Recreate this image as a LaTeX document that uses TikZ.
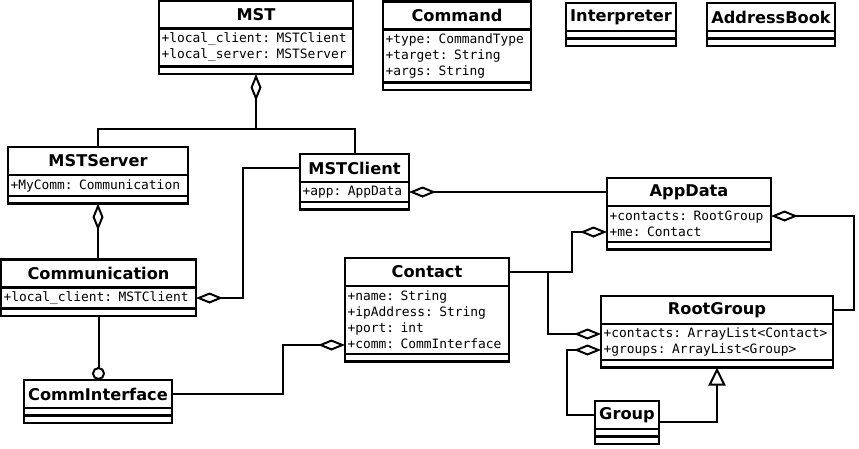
\documentclass[tikz,border=0pt]{standalone}
\usepackage{fontspec}
\setsansfont{DejaVu Sans}
\setmonofont{DejaVu Sans Mono}
\usetikzlibrary{positioning,arrows.meta}
\begin{document}
\begin{tikzpicture}[
    x=1pt, y=-1pt, line width=2pt,
    ctitle/.style={draw, line width=2.6pt, outer sep=0pt, inner sep=0pt, minimum height=28pt,
      font=\sffamily\bfseries\fontsize{16.2}{19}\selectfont},
    cattr/.style={draw, line width=2.6pt, outer sep=0pt, inner xsep=2.5pt, inner ysep=0pt, align=left,
      font=\ttfamily\fontsize{12.9}{16}\selectfont},
    cempty/.style={draw, line width=2.6pt, outer sep=0pt, inner sep=0pt, minimum height=7.5pt},
    agg/.style={{Diamond[open, length=27pt, width=11pt]}-},
    ball/.style={-{Circle[open, length=13pt]}},
    gen/.style={{Triangle[open, length=18pt, width=17pt]}-},
  ]
  \useasboundingbox (0,0) rectangle (859,448);

  % MST
  \node[ctitle, minimum width=194pt] (mst-t) at (256,14.5) {MST};
  \node[cattr, text width=189pt, minimum height=38pt, below=0pt of mst-t] (mst-a)
    {+local\_client: MSTClient\\+local\_server: MSTServer};
  \node[cempty, minimum width=194pt, below=0pt of mst-a] (mst-b) {};

  % Command, Interpreter, AddressBook
  \node[ctitle, minimum width=148pt] (cmd-t) at (457,15.5) {Command};
  \node[cattr, text width=143pt, minimum height=53pt, below=0pt of cmd-t] (cmd-a)
    {+type: CommandType\\+target: String\\+args: String};
  \node[cempty, minimum width=148pt, below=0pt of cmd-a] (cmd-b) {};
  \node[ctitle, minimum width=110pt] (interp-t) at (621,17) {Interpreter};
  \node[cempty, minimum width=110pt, below=0pt of interp-t] (interp-a) {};
  \node[cempty, minimum width=110pt, below=0pt of interp-a] (interp-b) {};
  \node[ctitle, minimum width=128pt] (abook-t) at (771,17) {AddressBook};
  \node[cempty, minimum width=128pt, below=0pt of abook-t] (abook-a) {};
  \node[cempty, minimum width=128pt, below=0pt of abook-a] (abook-b) {};

  % server side
  \node[ctitle, minimum width=180pt] (mstserver-t) at (98,161) {MSTServer};
  \node[cattr, text width=175pt, minimum height=21pt, below=0pt of mstserver-t] (mstserver-a)
    {+MyComm: Communication};
  \node[cempty, minimum width=180pt, below=0pt of mstserver-a] (mstserver-b) {};
  \node[ctitle, minimum width=195pt] (comm-t) at (98.5,273.5) {Communication};
  \node[cattr, text width=190pt, minimum height=21pt, below=0pt of comm-t] (comm-a)
    {+local\_client: MSTClient};
  \node[cempty, minimum width=195pt, below=0pt of comm-a] (comm-b) {};
  \node[ctitle, minimum width=148pt] (ci-t) at (98,394) {CommInterface};
  \node[cempty, minimum width=148pt, below=0pt of ci-t] (ci-a) {};
  \node[cempty, minimum width=148pt, below=0pt of ci-a] (ci-b) {};

  % client side
  \node[ctitle, minimum width=109pt] (mstclient-t) at (354.5,168) {MSTClient};
  \node[cattr, text width=104pt, minimum height=20pt, below=0pt of mstclient-t] (mstclient-a)
    {+app: AppData};
  \node[cempty, minimum width=109pt, below=0pt of mstclient-a] (mstclient-b) {};
  \node[ctitle, minimum width=164pt] (contact-t) at (427,272) {Contact};
  \node[cattr, text width=159pt, minimum height=68pt, below=0pt of contact-t] (contact-a)
    {+name: String\\+ipAddress: String\\+port: int\\+comm: CommInterface};
  \node[cempty, minimum width=164pt, below=0pt of contact-a] (contact-b) {};
  \node[ctitle, minimum width=164pt] (appdata-t) at (689,192) {AppData};
  \node[cattr, text width=159pt, minimum height=36pt, below=0pt of appdata-t] (appdata-a)
    {+contacts: RootGroup\\+me: Contact};
  \node[cempty, minimum width=164pt, below=0pt of appdata-a] (appdata-b) {};
  \node[ctitle, minimum width=232pt] (rootgroup-t) at (717,310) {RootGroup};
  \node[cattr, text width=227pt, minimum height=36pt, below=0pt of rootgroup-t] (rootgroup-a)
    {+contacts: ArrayList<Contact>\\+groups: ArrayList<Group>};
  \node[cempty, minimum width=232pt, below=0pt of rootgroup-a] (rootgroup-b) {};
  \node[ctitle, minimum width=64pt] (group-t) at (627,415) {Group};
  \node[cempty, minimum width=64pt, below=0pt of group-t] (group-a) {};
  \node[cempty, minimum width=64pt, below=0pt of group-a] (group-b) {};

  % Connectors
  \draw[agg] (mst-b.south) -- ++(0,55) -| (mstserver-t.north);
  \draw (mst-b.south) ++(0,55) -| (mstclient-t.north);
  \draw[agg] (mstserver-b.south) -- (mstserver-b.south |- comm-t.north);
  \draw[agg] (comm-a.east) -- ++(47,0) |- (mstclient-t.west);
  \draw[ball] (comm-b.south) -- (comm-b.south |- ci-t.north);
  \draw[agg] ([yshift=9pt]contact-a.south west) -- ++(-62,0) |- (ci-t.east);
  \draw[agg] (mstclient-a.east) -- (appdata-t.west);
  \draw[agg] ([yshift=-10pt]appdata-a.north east) -- ++(83,0) |- (rootgroup-t.east);
  \draw[agg] ([yshift=10pt]appdata-a.south west) -- ++(-35,0) |- (contact-t.east);
  \draw[agg] ([yshift=-10pt]rootgroup-a.north west) -- ++(-53,0) |- (contact-t.east);
  \draw[agg] ([yshift=10pt]rootgroup-a.south west) -- ++(-34,0) |- (group-t.west);
  % Group is a RootGroup
  \draw[gen] (rootgroup-b.south) |- ([yshift=-7pt]group-t.east);

\end{tikzpicture}
\end{document}
